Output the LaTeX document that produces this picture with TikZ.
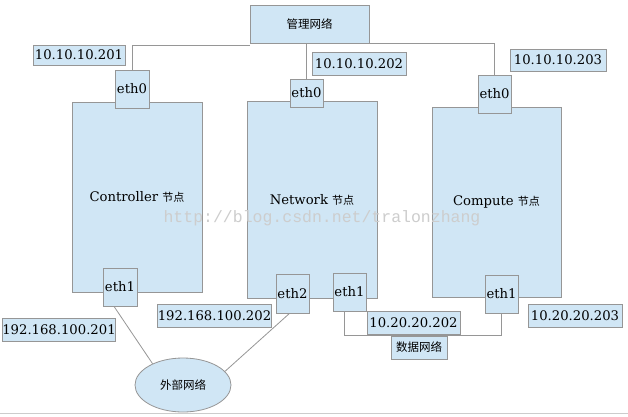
\documentclass[tikz,border=0pt]{standalone}
\usepackage{fontspec}
\usetikzlibrary{shapes.geometric}
\setmainfont{DejaVu Serif}
\newfontfamily\cjk{Noto Sans CJK SC}
\newfontfamily\wmfont{Liberation Mono}
\definecolor{boxfill}{RGB}{208,230,245}
\definecolor{boxline}{RGB}{150,150,150}
\definecolor{wmgray}{RGB}{205,205,205}
\begin{document}
\begin{tikzpicture}[x=1pt,y=-1pt,
  bx/.style={draw=boxline,fill=boxfill,line width=0.8pt,inner sep=0pt,
    font=\fontsize{13.2}{14}\selectfont},
  cn/.style={bx,font=\cjk\fontsize{11.5}{12}\selectfont},
  wire/.style={draw=boxline,line width=0.8pt}]
\useasboundingbox (0,0) rectangle (628,416);
\fill[white] (0,0) rectangle (628,416);
\draw[line width=0.8pt,color=black!20] (0,413.5) -- (628,413.5);
% hosts
\node[bx,minimum width=130,minimum height=190] (ctl) at (137,197) {Controller {\cjk\fontsize{11}{12}\selectfont 节点}};
\node[bx,minimum width=130,minimum height=197] (net) at (312,199.5) {Network {\cjk\fontsize{11}{12}\selectfont 节点}};
\node[bx,minimum width=129,minimum height=190] (cmp) at (496.5,202) {Compute {\cjk\fontsize{11}{12}\selectfont 节点}};
% networks
\node[cn,minimum width=119,minimum height=38] (mgmt) at (309.5,24) {管理网络};
\node[cn,minimum width=56,minimum height=23] (dn) at (419,347.5) {数据网络};
\node[cn,ellipse,minimum width=96,minimum height=54] (ext) at (183,385) {外部网络};
% interfaces
\node[bx,minimum width=34,minimum height=38] (e0c) at (132,89) {eth0};
\node[bx,minimum width=33,minimum height=28] (e0n) at (306.5,93) {eth0};
\node[bx,minimum width=33,minimum height=38] (e0p) at (494.5,94) {eth0};
\node[bx,minimum width=34,minimum height=38] (e1c) at (120,287) {eth1};
\node[bx,minimum width=33,minimum height=39] (e2n) at (292.5,293.5) {eth2};
\node[bx,minimum width=33,minimum height=38] (e1n) at (349.5,292) {eth1};
\node[bx,minimum width=33,minimum height=38] (e1p) at (501.5,294) {eth1};
% addresses
\node[bx,minimum width=92,minimum height=20] (ip1) at (79,55) {10.10.10.201};
\node[bx,minimum width=94,minimum height=23] (ip2) at (359,63.5) {10.10.10.202};
\node[bx,minimum width=96,minimum height=22] (ip3) at (558,60) {10.10.10.203};
\node[bx,minimum width=93,minimum height=23] (ip4) at (413.5,322.5) {10.20.20.202};
\node[bx,minimum width=94,minimum height=23] (ip5) at (575,315.5) {10.20.20.203};
\node[bx,minimum width=110,minimum height=23] (ip6) at (59,329.5) {192.168.100.201};
\node[bx,minimum width=113,minimum height=23] (ip7) at (214.5,315.5) {192.168.100.202};
% connectors
\draw[wire] ([yshift=-2pt]mgmt.south west) -| (e0c.north);
\draw[wire] (mgmt.south -| e0n.north) -- (e0n.north);
\draw[wire] (mgmt.south east) -| (e0p.north);
\draw[wire] ([xshift=-5pt]e1n.south) |- (dn.north) -| (e1p.south);
\draw[wire] ([xshift=-6pt]e1c.south) -- (ext.145);
\draw[wire] ([xshift=-3pt]e2n.south) -- (ext.18);
% watermark
\node[text=wmgray,font=\wmfont\fontsize{16.5}{17}\selectfont,inner sep=0pt] (wm) at (322,218) {http://blog.csdn.net/tralonzhang};
\end{tikzpicture}
\end{document}
